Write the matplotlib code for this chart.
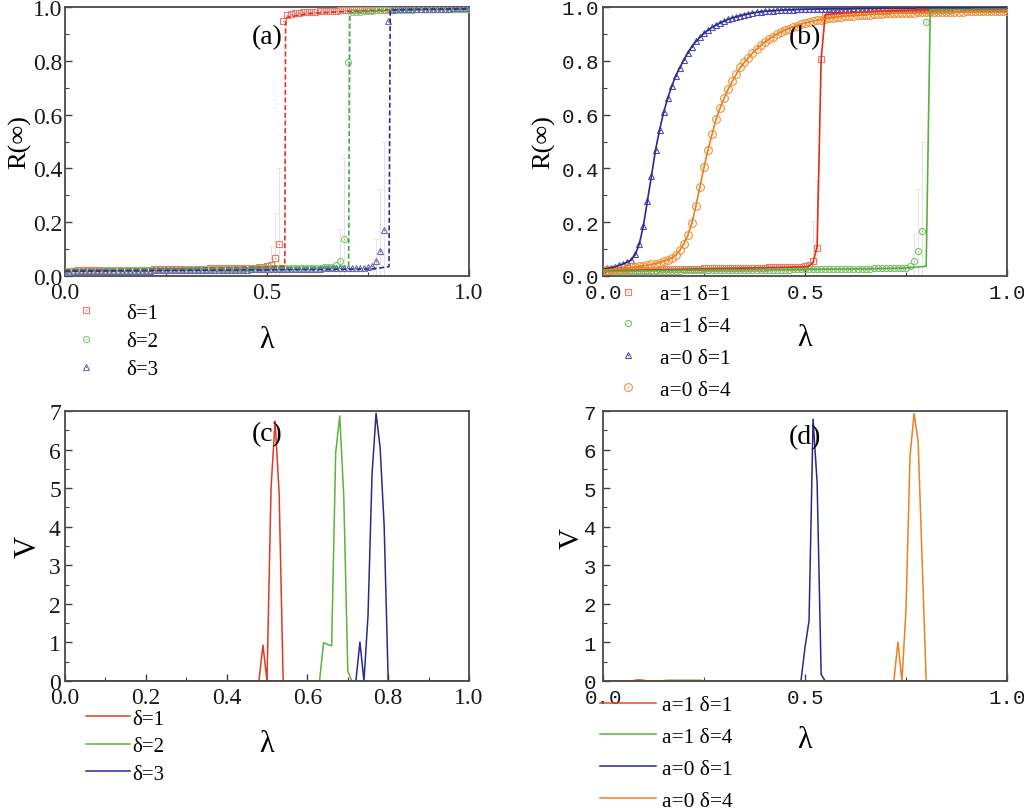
import numpy as np
import matplotlib
matplotlib.use('Agg')
import matplotlib.pyplot as plt
from matplotlib.ticker import MultipleLocator
from matplotlib.lines import Line2D
from matplotlib.legend_handler import HandlerTuple

plt.rcParams['font.family'] = ['Liberation Serif', 'DejaVu Serif']

# ---------------- data ----------------
lam = np.round(np.arange(101) * 0.01, 2)

# panel (a): markers (simulation)
Ra_d1 = [0.020,0.020,0.020,0.021,0.021,0.021,0.021,0.022,0.022,0.022,
         0.022,0.022,0.023,0.023,0.023,0.023,0.023,0.024,0.024,0.024,
         0.024,0.024,0.025,0.025,0.025,0.025,0.025,0.026,0.026,0.026,
         0.026,0.026,0.027,0.027,0.027,0.027,0.028,0.028,0.028,0.028,
         0.029,0.029,0.029,0.030,0.030,0.030,0.031,0.031,0.032,0.034,
         0.036,0.041,0.066,0.120,0.947,0.972,0.975,0.977,0.979,0.980,
         0.981,0.982,0.983,0.984,0.985,0.985,0.986,0.986,0.987,0.987,
         0.988,0.988,0.988,0.989,0.989,0.989,0.990,0.990,0.990,0.990,
         0.991,0.991,0.991,0.991,0.991,0.992,0.992,0.992,0.992,0.992,
         0.992,0.993,0.993,0.993,0.993,0.993,0.993,0.994,0.994,0.994,
         0.994]
Ra_d2 = [0.018,0.018,0.019,0.019,0.019,0.019,0.020,0.020,0.020,0.020,
         0.021,0.021,0.021,0.021,0.021,0.022,0.022,0.022,0.022,0.022,
         0.023,0.023,0.023,0.023,0.023,0.024,0.024,0.024,0.024,0.024,
         0.025,0.025,0.025,0.025,0.025,0.026,0.026,0.026,0.026,0.026,
         0.027,0.027,0.027,0.027,0.027,0.028,0.028,0.028,0.028,0.028,
         0.029,0.029,0.029,0.029,0.029,0.029,0.030,0.030,0.030,0.030,
         0.030,0.030,0.031,0.031,0.032,0.033,0.035,0.041,0.056,0.138,
         0.797,0.980,0.982,0.983,0.984,0.985,0.986,0.987,0.987,0.988,
         0.988,0.989,0.989,0.989,0.990,0.990,0.990,0.991,0.991,0.991,
         0.991,0.992,0.992,0.992,0.992,0.992,0.993,0.993,0.993,0.993,
         0.993]
Ra_d3 = [0.016,0.016,0.017,0.017,0.017,0.017,0.018,0.018,0.018,0.018,
         0.018,0.019,0.019,0.019,0.019,0.019,0.020,0.020,0.020,0.020,
         0.020,0.020,0.021,0.021,0.021,0.021,0.021,0.021,0.022,0.022,
         0.022,0.022,0.022,0.022,0.023,0.023,0.023,0.023,0.023,0.023,
         0.024,0.024,0.024,0.024,0.024,0.024,0.025,0.025,0.025,0.025,
         0.025,0.025,0.026,0.026,0.026,0.026,0.026,0.026,0.027,0.027,
         0.027,0.027,0.027,0.027,0.028,0.028,0.028,0.028,0.028,0.029,
         0.029,0.029,0.029,0.030,0.030,0.032,0.037,0.056,0.093,0.170,
         0.947,0.990,0.991,0.991,0.992,0.992,0.992,0.993,0.993,0.993,
         0.993,0.994,0.994,0.994,0.994,0.994,0.995,0.995,0.995,0.995,
         0.995]

# panel (a): dashed theory lines
La1_x = [0.0, 0.1, 0.2, 0.3, 0.4, 0.5, 0.544, 0.546, 0.55, 0.6, 0.7, 0.8, 0.9, 1.0]
La1_y = [0.022, 0.024, 0.026, 0.028, 0.031, 0.034, 0.037, 0.955, 0.962, 0.975, 0.984, 0.989, 0.991, 0.992]
La2_x = [0.0, 0.1, 0.2, 0.3, 0.4, 0.5, 0.6, 0.7, 0.702, 0.705, 0.75, 0.8, 0.9, 1.0]
La2_y = [0.020, 0.022, 0.024, 0.026, 0.028, 0.030, 0.032, 0.036, 0.036, 0.978, 0.983, 0.987, 0.990, 0.992]
La3_x = [0.0, 0.1, 0.2, 0.3, 0.4, 0.5, 0.6, 0.7, 0.75, 0.78, 0.802, 0.805, 0.85, 0.9, 1.0]
La3_y = [0.018, 0.019, 0.020, 0.021, 0.022, 0.023, 0.024, 0.025, 0.026, 0.030, 0.035, 0.988, 0.991, 0.992, 0.993]

# panel (a): error bars at transition points
Ea1_x = [0.51, 0.52, 0.53]; Ea1_y = [0.041, 0.066, 0.120]; Ea1_e = [0.07, 0.17, 0.28]
Ea2_x = [0.68, 0.69, 0.70]; Ea2_y = [0.056, 0.138, 0.797]; Ea2_e = [0.12, 0.30, 0.20]
Ea3_x = [0.77, 0.78, 0.79]; Ea3_y = [0.056, 0.093, 0.170]; Ea3_e = [0.08, 0.23, 0.33]

# panel (b): markers
Rb_a1d1 = [0.020,0.020,0.021,0.021,0.021,0.022,0.022,0.022,0.023,0.023,
           0.023,0.024,0.024,0.024,0.025,0.025,0.025,0.026,0.026,0.026,
           0.026,0.027,0.027,0.027,0.027,0.028,0.028,0.028,0.028,0.029,
           0.029,0.029,0.029,0.030,0.030,0.030,0.030,0.031,0.031,0.031,
           0.031,0.032,0.032,0.032,0.033,0.033,0.033,0.034,0.034,0.035,
           0.036,0.040,0.056,0.105,0.806,0.972,0.975,0.977,0.978,0.979,
           0.980,0.981,0.982,0.983,0.983,0.984,0.984,0.985,0.985,0.986,
           0.986,0.987,0.987,0.987,0.988,0.988,0.988,0.988,0.989,0.989,
           0.989,0.989,0.990,0.990,0.990,0.990,0.990,0.991,0.991,0.991,
           0.991,0.991,0.991,0.992,0.992,0.992,0.992,0.992,0.992,0.992,
           0.993]
Rb_a1d4 = [0.017,0.017,0.017,0.018,0.018,0.018,0.018,0.018,0.019,0.019,
           0.019,0.019,0.019,0.019,0.020,0.020,0.020,0.020,0.020,0.020,
           0.021,0.021,0.021,0.021,0.021,0.021,0.022,0.022,0.022,0.022,
           0.022,0.022,0.022,0.023,0.023,0.023,0.023,0.023,0.023,0.023,
           0.024,0.024,0.024,0.024,0.024,0.024,0.024,0.025,0.025,0.025,
           0.025,0.025,0.025,0.025,0.026,0.026,0.026,0.026,0.026,0.026,
           0.026,0.027,0.027,0.027,0.027,0.027,0.027,0.028,0.028,0.028,
           0.028,0.028,0.028,0.029,0.029,0.031,0.038,0.055,0.092,0.168,
           0.945,0.985,0.987,0.988,0.989,0.990,0.990,0.991,0.991,0.991,
           0.992,0.992,0.992,0.992,0.993,0.993,0.993,0.993,0.993,0.994,
           0.994]
Rb_a0d1 = [0.025,0.028,0.031,0.035,0.040,0.045,0.051,0.060,0.080,0.120,
           0.187,0.280,0.373,0.468,0.543,0.608,0.660,0.705,0.744,0.775,
           0.803,0.830,0.853,0.872,0.888,0.902,0.914,0.924,0.933,0.941,
           0.948,0.954,0.959,0.964,0.968,0.972,0.975,0.978,0.980,0.982,
           0.984,0.985,0.986,0.987,0.988,0.989,0.990,0.990,0.991,0.991,
           0.992,0.992,0.992,0.993,0.993,0.993,0.993,0.994,0.994,0.994,
           0.994,0.994,0.995,0.995,0.995,0.995,0.995,0.995,0.995,0.996,
           0.996,0.996,0.996,0.996,0.996,0.996,0.996,0.996,0.997,0.997,
           0.997,0.997,0.997,0.997,0.997,0.997,0.997,0.997,0.997,0.997,
           0.997,0.997,0.998,0.998,0.998,0.998,0.998,0.998,0.998,0.998,
           0.998]
Rb_a0d4 = [0.022,0.023,0.024,0.025,0.027,0.028,0.030,0.032,0.034,0.036,
           0.038,0.040,0.043,0.046,0.050,0.055,0.060,0.067,0.078,0.096,
           0.120,0.152,0.197,0.261,0.332,0.404,0.470,0.527,0.584,0.625,
           0.662,0.695,0.724,0.750,0.776,0.795,0.812,0.829,0.844,0.857,
           0.869,0.880,0.890,0.899,0.907,0.914,0.920,0.926,0.931,0.936,
           0.940,0.944,0.947,0.950,0.953,0.955,0.958,0.960,0.962,0.964,
           0.966,0.967,0.968,0.969,0.970,0.971,0.972,0.973,0.974,0.975,
           0.976,0.976,0.977,0.977,0.978,0.978,0.979,0.979,0.980,0.980,
           0.981,0.981,0.981,0.982,0.982,0.982,0.983,0.983,0.983,0.983,
           0.984,0.984,0.984,0.984,0.985,0.985,0.985,0.985,0.985,0.986,
           0.986]

# panel (b): solid lines for a=1
Lb1_x = [0.0, 0.1, 0.2, 0.3, 0.4, 0.5, 0.51, 0.52, 0.53, 0.54, 0.55, 0.6, 0.7, 0.8, 0.9, 1.0]
Lb1_y = [0.020, 0.022, 0.025, 0.028, 0.031, 0.034, 0.037, 0.050, 0.110, 0.806, 0.972, 0.978, 0.985, 0.990, 0.992, 0.994]
Lb2_x = [0.0, 0.1, 0.2, 0.3, 0.4, 0.5, 0.6, 0.7, 0.75, 0.80, 0.81, 0.9, 1.0]
Lb2_y = [0.017, 0.019, 0.021, 0.022, 0.024, 0.025, 0.026, 0.028, 0.030, 0.036, 0.990, 0.993, 0.995]

Eb1_x = [0.52, 0.53]; Eb1_y = [0.056, 0.105]; Eb1_e = [0.15, 0.25]
Eb2_x = [0.77, 0.78, 0.79]; Eb2_y = [0.055, 0.092, 0.168]; Eb2_e = [0.10, 0.23, 0.33]

# panel (c): V for delta = 1, 2, 3
Vc1_x = [0.0, 0.48, 0.49, 0.50, 0.51, 0.52, 0.53, 0.54, 1.0]
Vc1_y = [0.0, 0.0, 0.93, 0.0, 5.00, 6.74, 4.88, 0.0, 0.0]
Vc2_x = [0.0, 0.63, 0.64, 0.65, 0.66, 0.67, 0.68, 0.69, 0.70, 0.71, 1.0]
Vc2_y = [0.0, 0.0, 0.99, 0.95, 0.91, 5.92, 6.87, 4.80, 0.26, 0.0, 0.0]
Vc3_x = [0.0, 0.72, 0.73, 0.74, 0.75, 0.76, 0.77, 0.78, 0.79, 0.80, 1.0]
Vc3_y = [0.0, 0.0, 1.01, 0.0, 1.69, 5.36, 6.94, 6.05, 4.02, 0.0, 0.0]

# panel (d)
Vd1_x = [0.0, 0.07, 0.08, 0.09, 0.10, 0.11, 1.0]
Vd1_y = [0.0, 0.0, 0.02, 0.03, 0.02, 0.0, 0.0]
Vd2_x = [0.0, 0.14, 0.16, 0.18, 0.20, 0.22, 0.24, 0.25, 1.0]
Vd2_y = [0.0, 0.0, 0.02, 0.02, 0.02, 0.02, 0.02, 0.0, 0.0]
Vd3_x = [0.0, 0.49, 0.50, 0.51, 0.52, 0.53, 0.54, 0.55, 1.0]
Vd3_y = [0.0, 0.0, 0.87, 1.56, 6.79, 5.14, 0.17, 0.0, 0.0]
Vd4_x = [0.0, 0.72, 0.73, 0.74, 0.75, 0.76, 0.77, 0.78, 0.79, 0.80, 1.0]
Vd4_y = [0.0, 0.0, 1.01, 0.0, 1.86, 5.83, 6.94, 6.22, 3.10, 0.0, 0.0]

labels_ac = ['δ=1', 'δ=2', 'δ=3']
labels_bd = ['a=1 δ=1', 'a=1 δ=4', 'a=0 δ=1', 'a=0 δ=4']

# ---------------- figure ----------------
W, H = 1024, 812
fig = plt.figure(figsize=(W / 100, H / 100), dpi=100)

def ax_at(l, t, r, b):
    return fig.add_axes([l / W, 1 - b / H, (r - l) / W, (b - t) / H])

axA = ax_at(65, 8, 469, 277)
axB = ax_at(603, 8, 1007, 277)
axC = ax_at(65, 412, 469, 682)
axD = ax_at(603, 412, 1007, 682)

serif = 'Liberation Serif'
mono = 'Liberation Mono'

def style(ax, xmaj, xmin, ymaj, ymin, ylim, tfont, tsize, xpad, ypad):
    ax.set_xlim(0, 1)
    ax.set_ylim(*ylim)
    ax.xaxis.set_major_locator(MultipleLocator(xmaj))
    ax.xaxis.set_minor_locator(MultipleLocator(xmin))
    ax.yaxis.set_major_locator(MultipleLocator(ymaj))
    ax.yaxis.set_minor_locator(MultipleLocator(ymin))
    for s in ax.spines.values():
        s.set_linewidth(1.3)
        s.set_color('#4a4a4a')
    ax.tick_params(which='both', direction='in', top=False, right=False, color='#404040',
                   labelfontfamily=tfont, labelsize=tsize, labelcolor='#1a1a1a')
    ax.tick_params(which='major', length=5, width=1.0)
    ax.tick_params(which='minor', length=3, width=0.8)
    ax.tick_params(axis='x', pad=xpad)
    ax.tick_params(axis='y', pad=ypad)

def set_labels(ax, xl, yl, ysize, ypos, xpos):
    ax.set_ylabel(yl, fontsize=ysize, va='center')
    ax.yaxis.set_label_coords(*ypos)
    ax.set_xlabel(xl, fontsize=22, va='center')
    ax.xaxis.set_label_coords(*xpos)

def dotted_marker(ax, x, y, marker, color, ms, zorder=3, mew=0.8):
    ax.plot(x, y, linestyle='none', marker=marker, ms=ms, mfc='none', mec=color, mew=mew, zorder=zorder)
    ax.plot(x, y, linestyle='none', marker='o', ms=1.0, mfc=color, mec=color, mew=0, zorder=zorder)
    h1 = Line2D([], [], linestyle='none', marker=marker, ms=ms, mfc='none', mec=color, mew=mew)
    h2 = Line2D([], [], linestyle='none', marker='o', ms=1.0, mfc=color, mec=color, mew=0)
    return (h1, h2)

ecol = '#e4e4e4'

# ---- (a)
cA_m = ['#ee7a6a', '#86c47a', '#6c6cb8']
cA_l = ['#e8301e', '#3fae3a', '#2b2b9e']
for ex, ey, ee in [(Ea1_x, Ea1_y, Ea1_e), (Ea2_x, Ea2_y, Ea2_e), (Ea3_x, Ea3_y, Ea3_e)]:
    axA.errorbar(ex, ey, yerr=ee, fmt='none', ecolor=ecol, elinewidth=0.8, capsize=2, capthick=0.6, zorder=1)
hA = []
hA.append(dotted_marker(axA, lam, Ra_d1, 's', cA_m[0], 4.2))
hA.append(dotted_marker(axA, lam, Ra_d2, 'o', cA_m[1], 4.4))
hA.append(dotted_marker(axA, lam, Ra_d3, '^', cA_m[2], 4.8))
axA.plot(La1_x, La1_y, '--', color=cA_l[0], lw=1.2, dashes=(3, 1.6), zorder=4)
axA.plot(La2_x, La2_y, '--', color=cA_l[1], lw=1.2, dashes=(3, 1.6), zorder=4)
axA.plot(La3_x, La3_y, '--', color=cA_l[2], lw=1.2, dashes=(3, 1.6), zorder=4)
style(axA, 0.5, 0.25, 0.2, 0.1, (0, 1.0), serif, 17, 4, 2)
set_labels(axA, 'λ', 'R(∞)', 19, (-0.113, 0.5), (0.5, -0.235))
axA.text(0.5, 0.89, '(a)', transform=axA.transAxes, ha='center', va='center', fontsize=20)
axA.legend(hA, labels_ac, handler_map={tuple: HandlerTuple(ndivide=1)},
           loc='upper left', bbox_to_anchor=(76 / W, 1 - 304 / H), bbox_transform=fig.transFigure,
           frameon=False, fontsize=15, handlelength=1.0, handletextpad=1.4,
           labelspacing=0.42, borderpad=0, borderaxespad=0)

# ---- (b)
cB_m = ['#ee7a62', '#7cc06c', '#5050b0', '#f0903a']
cB_l = ['#e0301a', '#5cb040', '#2a2a96', '#e8801c']
for ex, ey, ee in [(Eb1_x, Eb1_y, Eb1_e), (Eb2_x, Eb2_y, Eb2_e)]:
    axB.errorbar(ex, ey, yerr=ee, fmt='none', ecolor=ecol, elinewidth=0.8, capsize=2, capthick=0.6, zorder=1)
hB = []
hB.append(dotted_marker(axB, lam, Rb_a1d1, 's', cB_m[0], 4.2))
hB.append(dotted_marker(axB, lam, Rb_a1d4, 'o', cB_m[1], 4.4))
hB.append(dotted_marker(axB, lam, Rb_a0d1, '^', cB_m[2], 4.8))
hB.append(dotted_marker(axB, lam, Rb_a0d4, 'o', cB_m[3], 5.6))
axB.plot(Lb1_x, Lb1_y, '-', color=cB_l[0], lw=1.2, zorder=4)
axB.plot(Lb2_x, Lb2_y, '-', color=cB_l[1], lw=1.2, zorder=4)
axB.plot(lam, Rb_a0d1, '-', color=cB_l[2], lw=1.2, zorder=4)
axB.plot(lam, Rb_a0d4, '-', color=cB_l[3], lw=1.2, zorder=4)
style(axB, 0.5, 0.25, 0.2, 0.1, (0, 1.0), mono, 15, 5, 3)
set_labels(axB, 'λ', 'R(∞)', 19, (-0.146, 0.5), (0.5, -0.23))
axB.text(0.5, 0.89, '(b)', transform=axB.transAxes, ha='center', va='center', fontsize=20)
axB.legend(hB, labels_bd, handler_map={tuple: HandlerTuple(ndivide=1)},
           loc='upper left', bbox_to_anchor=(617 / W, 1 - 285 / H), bbox_transform=fig.transFigure,
           frameon=False, fontsize=15.5, handlelength=1.0, handletextpad=1.0,
           labelspacing=0.55, borderpad=0, borderaxespad=0)

# ---- (c)
cC = ['#e03a22', '#5cb43c', '#2a2a8c']
axC.plot(Vc1_x, Vc1_y, '-', color=cC[0], lw=1.1, label=labels_ac[0])
axC.plot(Vc2_x, Vc2_y, '-', color=cC[1], lw=1.1, label=labels_ac[1])
axC.plot(Vc3_x, Vc3_y, '-', color=cC[2], lw=1.1, label=labels_ac[2])
style(axC, 0.2, 0.1, 1, 0.5, (0, 7), serif, 17, 4, 3)
set_labels(axC, 'λ', 'V', 22, (-0.092, 0.5), (0.5, -0.23))
axC.text(0.5, 0.915, '(c)', transform=axC.transAxes, ha='center', va='center', fontsize=20)
axC.legend(loc='upper left', bbox_to_anchor=(86 / W, 1 - 710 / H), bbox_transform=fig.transFigure,
           frameon=False, fontsize=15, handlelength=2.1, handletextpad=0.1,
           labelspacing=0.38, borderpad=0, borderaxespad=0)

# ---- (d)
cD = ['#e04a2a', '#5cb43c', '#2a2a8c', '#ee8020']
axD.plot(Vd1_x, Vd1_y, '-', color=cD[0], lw=1.1, label=labels_bd[0])
axD.plot(Vd2_x, Vd2_y, '-', color=cD[1], lw=1.1, label=labels_bd[1])
axD.plot(Vd3_x, Vd3_y, '-', color=cD[2], lw=1.1, label=labels_bd[2])
axD.plot(Vd4_x, Vd4_y, '-', color=cD[3], lw=1.1, label=labels_bd[3])
style(axD, 0.5, 0.25, 1, 0.5, (0, 7), mono, 15, 5, 5)
set_labels(axD, 'λ', 'V', 21, (-0.078, 0.533), (0.5, -0.215))
axD.text(0.5, 0.905, '(d)', transform=axD.transAxes, ha='center', va='center', fontsize=20)
axD.legend(loc='upper left', bbox_to_anchor=(600 / W, 1 - 696 / H), bbox_transform=fig.transFigure,
           frameon=False, fontsize=15.5, handlelength=2.6, handletextpad=0.3,
           labelspacing=0.55, borderpad=0, borderaxespad=0)

fig.savefig('out.png', dpi=100)
